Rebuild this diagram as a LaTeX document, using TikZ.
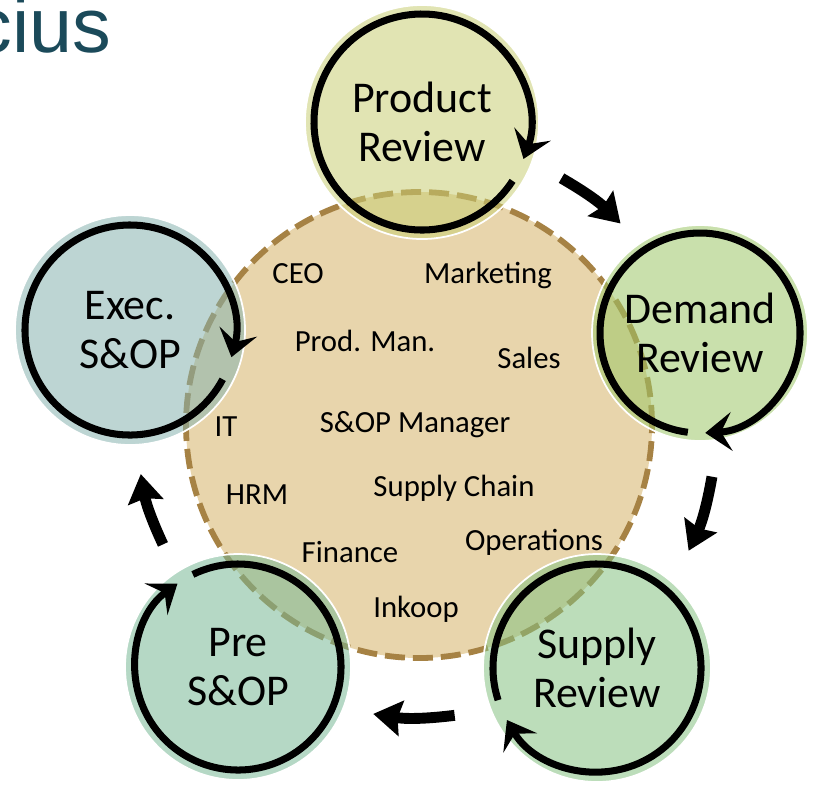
\documentclass[tikz,border=0pt]{standalone}
\usepackage{fontspec}
\setmainfont{Carlito}
\newfontfamily\titlefont{Liberation Sans}
\usetikzlibrary{arrows.meta,calc}
\definecolor{tanfill}{RGB}{232,213,172}
\definecolor{dashbrown}{RGB}{166,130,68}
\definecolor{prodcol}{RGB}{200,206,117}
\definecolor{demcol}{RGB}{157,199,104}
\definecolor{supcol}{RGB}{133,193,130}
\definecolor{precol}{RGB}{120,184,150}
\definecolor{execcol}{RGB}{135,179,175}
\definecolor{titleblue}{RGB}{27,74,90}
\tikzset{
  phase/.style={circle, inner sep=0pt, fill opacity=0.55, text opacity=1, align=center,
    font=\fontsize{25}{27.5}\selectfont},
  halo/.style={draw=white, line width=1pt},
  ring/.style={line width=4pt, -{Stealth[length=15pt,width=22pt,inset=6pt]}},
  flow/.style={line width=6.2pt, -{Stealth[length=16pt,width=20pt,inset=2pt]}},
  role/.style={anchor=base, font=\fontsize{17.5}{20}\selectfont}
}

\begin{document}
\begin{tikzpicture}
  \useasboundingbox (0,0) rectangle (16.26,-15.72);

  \node [circle, minimum size=9.32cm, fill=tanfill, draw=dashbrown, line width=3.3pt,
    dash pattern=on 0.4cm off 0.16cm] (hub) at (8.38,-8.5) {};

  \node [role] (ceo) at (5.96,-5.66) {CEO};
  \node [role] (mkt) at (9.76,-5.66) {Marketing};
  \node [role] (pm) at (7.3,-7.02) {Prod. Man.};
  \node [role] (sales) at (10.58,-7.36) {Sales};
  \node [role] (it) at (4.52,-8.72) {IT};
  \node [role] (sop) at (8.3,-8.64) {S\&OP Manager};
  \node [role] (hrm) at (5.14,-10.08) {HRM};
  \node [role] (sc) at (9.08,-9.92) {Supply Chain};
  \node [role] (ops) at (10.68,-11.0) {Operations};
  \node [role] (fin) at (7.0,-11.24) {Finance};
  \node [role] (ink) at (8.32,-12.34) {Inkoop};

  \node [phase, minimum size=4.68cm, fill=prodcol] (prod) at (8.44,-2.44) {Product\\Review};
  \node [phase, minimum size=4.32cm, fill=demcol] (dem) at (14.0,-6.66) {Demand\\Review};
  \node [phase, minimum size=4.56cm, fill=supcol] (sup) at (11.94,-13.36) {Supply\\Review};
  \node [phase, minimum size=4.52cm, fill=precol] (pre) at (4.76,-13.34) {Pre\\S\&OP};
  \node [phase, minimum size=4.6cm, fill=execcol] (exec) at (2.6,-6.6) {Exec.\\S\&OP};

  \draw [halo] (prod.center) circle (2.34);
  \draw [halo] (dem.center) circle (2.16);
  \draw [halo] (sup.center) circle (2.28);
  \draw [halo] (pre.center) circle (2.26);
  \draw [halo] (exec.center) circle (2.3);

  \draw [ring] ([shift={(-33:2.16)}]prod.center) arc [start angle=-33, end angle=-380, radius=2.16];
  \draw [ring] ([shift={(-97:2.0)}]dem.center) arc [start angle=-97, end angle=-447, radius=2.0];
  \draw [ring] ([shift={(198:2.08)}]sup.center) arc [start angle=198, end angle=-150, radius=2.08];
  \draw [ring] ([shift={(116:2.06)}]pre.center) arc [start angle=116, end angle=-234, radius=2.06];
  \draw [ring] ([shift={(-28:2.1)}]exec.center) arc [start angle=-28, end angle=-375, radius=2.1];

  \coordinate (f1s) at ($(hub)+(60:5.7)$);
  \coordinate (f1e) at ($(hub)+(45:5.7)$);
  \coordinate (f2s) at ($(hub)+(-10:5.95)$);
  \coordinate (f2e) at ($(hub)+(-25:5.95)$);
  \coordinate (f3s) at ($(hub)+(-83:5.85)$);
  \coordinate (f3e) at ($(hub)+(-99:5.85)$);
  \coordinate (f4s) at ($(hub)+(205:5.65)$);
  \coordinate (f4e) at ($(hub)+(190:5.65)$);
  \draw [flow] (f1s) to [bend left=7.5] (f1e);
  \draw [flow] (f2s) to [bend left=7.5] (f2e);
  \draw [flow] (f3s) to [bend left=8] (f3e);
  \draw [flow] (f4s) to [bend left=7.5] (f4e);

  \node [anchor=base west, inner sep=0pt, text=titleblue,
    font=\titlefont\fontsize{44}{44}\selectfont] (title) at (-0.54,-1.04) {cius};
\end{tikzpicture}
\end{document}
